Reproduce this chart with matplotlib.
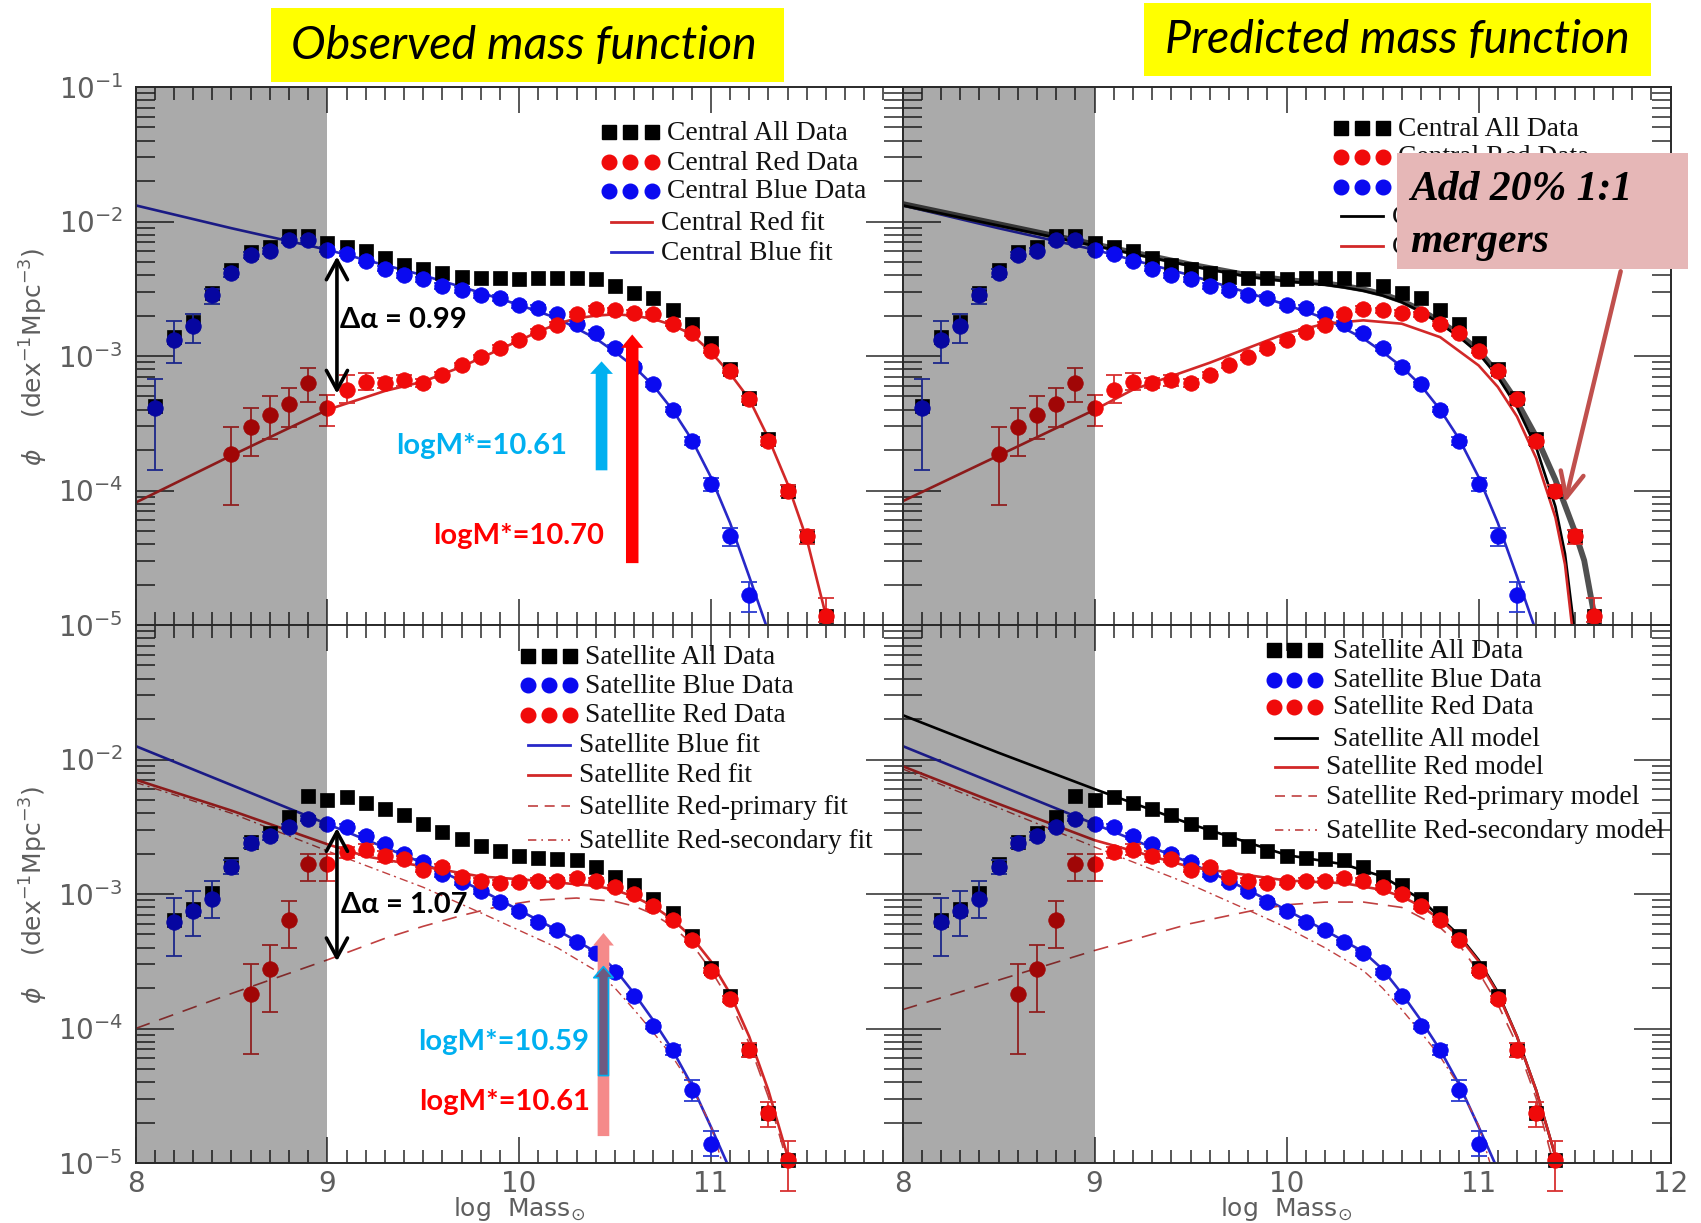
import numpy as np
import matplotlib
matplotlib.use("Agg")
import matplotlib.pyplot as plt
from matplotlib.lines import Line2D
from matplotlib.patches import Rectangle, FancyArrowPatch
from matplotlib.ticker import FixedLocator, LogLocator, FuncFormatter, NullFormatter

# ---------------------------------------------------------------- data (log10 phi)
# Centrals
cen_all_x = [8.1, 8.2, 8.3, 8.4, 8.5, 8.6, 8.7, 8.8, 8.9, 9.0, 9.1, 9.2, 9.3, 9.4, 9.5, 9.6,
             9.7, 9.8, 9.9, 10.0, 10.1, 10.2, 10.3, 10.4, 10.5, 10.6, 10.7, 10.8, 10.9, 11.0,
             11.1, 11.2, 11.3, 11.4, 11.5, 11.6]
cen_all_logphi = [-3.37, -2.86, -2.75, -2.53, -2.36, -2.23, -2.19, -2.11, -2.11, -2.16, -2.19,
                  -2.22, -2.27, -2.32, -2.35, -2.38, -2.41, -2.42, -2.42, -2.43, -2.42, -2.42,
                  -2.42, -2.43, -2.48, -2.53, -2.57, -2.66, -2.76, -2.90, -3.10, -3.31, -3.62,
                  -4.00, -4.34, -4.93]

cen_blue_x = [8.1, 8.2, 8.3, 8.4, 8.5, 8.6, 8.7, 8.8, 8.9, 9.0, 9.1, 9.2, 9.3, 9.4, 9.5, 9.6,
              9.7, 9.8, 9.9, 10.0, 10.1, 10.2, 10.3, 10.4, 10.5, 10.6, 10.7, 10.8, 10.9, 11.0,
              11.1, 11.2]
cen_blue_logphi = [-3.39, -2.88, -2.78, -2.55, -2.38, -2.25, -2.22, -2.14, -2.14, -2.21, -2.24,
                   -2.29, -2.35, -2.40, -2.43, -2.48, -2.51, -2.55, -2.57, -2.62, -2.64, -2.69,
                   -2.76, -2.83, -2.94, -3.08, -3.21, -3.40, -3.63, -3.95, -4.34, -4.78]
cen_blue_err_lo = [0.46, 0.17, 0.12, 0.06, 0.03, 0.02, 0.02, 0.02, 0.02, 0.02, 0.02, 0.02, 0.02,
                   0.02, 0.02, 0.02, 0.02, 0.02, 0.02, 0.02, 0.02, 0.02, 0.02, 0.02, 0.02, 0.02,
                   0.02, 0.02, 0.03, 0.05, 0.07, 0.12]
cen_blue_err_hi = [0.22, 0.14, 0.09, 0.05, 0.03, 0.02, 0.02, 0.02, 0.02, 0.02, 0.02, 0.02, 0.02,
                   0.02, 0.02, 0.02, 0.02, 0.02, 0.02, 0.02, 0.02, 0.02, 0.02, 0.02, 0.02, 0.02,
                   0.02, 0.02, 0.03, 0.04, 0.06, 0.10]

cen_red_x = [8.5, 8.6, 8.7, 8.8, 8.9, 9.0, 9.1, 9.2, 9.3, 9.4, 9.5, 9.6, 9.7, 9.8, 9.9, 10.0,
             10.1, 10.2, 10.3, 10.4, 10.5, 10.6, 10.7, 10.8, 10.9, 11.0, 11.1, 11.2, 11.3, 11.4,
             11.5, 11.6]
cen_red_logphi = [-3.73, -3.53, -3.44, -3.36, -3.20, -3.39, -3.25, -3.19, -3.20, -3.18, -3.20,
                  -3.14, -3.07, -3.01, -2.94, -2.88, -2.82, -2.77, -2.69, -2.65, -2.66, -2.68,
                  -2.69, -2.76, -2.83, -2.96, -3.11, -3.32, -3.63, -4.00, -4.34, -4.93]
cen_red_err_lo = [0.38, 0.21, 0.18, 0.17, 0.14, 0.13, 0.10, 0.06, 0.04, 0.04, 0.03, 0.02, 0.02,
                  0.02, 0.02, 0.02, 0.02, 0.02, 0.02, 0.02, 0.02, 0.02, 0.02, 0.02, 0.02, 0.02,
                  0.02, 0.02, 0.03, 0.04, 0.06, 0.05]
cen_red_err_hi = [0.20, 0.14, 0.14, 0.12, 0.11, 0.10, 0.11, 0.06, 0.04, 0.04, 0.03, 0.02, 0.02,
                  0.02, 0.02, 0.02, 0.02, 0.02, 0.02, 0.02, 0.02, 0.02, 0.02, 0.02, 0.02, 0.02,
                  0.02, 0.02, 0.03, 0.04, 0.05, 0.13]

# Central fits (observed panel)
cen_blue_fit_x = [8.0, 8.5, 9.0, 9.5, 9.8, 10.0, 10.2, 10.4, 10.5, 10.6, 10.7, 10.8, 10.9, 11.0,
                  11.1, 11.2, 11.3]
cen_blue_fit_logphi = [-1.88, -2.05, -2.21, -2.40, -2.53, -2.62, -2.72, -2.87, -2.97, -3.08,
                       -3.22, -3.40, -3.62, -3.90, -4.24, -4.64, -5.05]
cen_red_fit_x = [8.0, 8.5, 9.0, 9.3, 9.5, 9.7, 9.9, 10.1, 10.2, 10.3, 10.4, 10.5, 10.6, 10.7,
                 10.8, 10.9, 11.0, 11.1, 11.2, 11.3, 11.4, 11.5, 11.6, 11.62]
cen_red_fit_logphi = [-4.09, -3.74, -3.40, -3.26, -3.19, -3.08, -2.95, -2.82, -2.76, -2.72,
                      -2.70, -2.69, -2.70, -2.725, -2.77, -2.84, -2.97, -3.13, -3.32, -3.61,
                      -3.95, -4.36, -4.93, -5.05]

# Central models (predicted panel)
cen_all_model_x = [8.0, 8.5, 9.0, 9.5, 9.8, 10.0, 10.2, 10.3, 10.4, 10.5, 10.6, 10.7, 10.8,
                   10.9, 11.0, 11.1, 11.2, 11.3, 11.4, 11.45, 11.5]
cen_all_model_logphi = [-1.88, -2.03, -2.18, -2.33, -2.41, -2.445, -2.47, -2.49, -2.515, -2.55,
                        -2.60, -2.67, -2.76, -2.86, -2.98, -3.155, -3.38, -3.68, -4.12, -4.47,
                        -5.05]
cen_merger_model_x = [8.0, 8.5, 9.0, 9.5, 9.8, 10.0, 10.2, 10.3, 10.4, 10.5, 10.6, 10.7, 10.8,
                      10.9, 11.0, 11.1, 11.2, 11.3, 11.4, 11.5, 11.55, 11.6, 11.63]
cen_merger_model_logphi = [-1.87, -2.02, -2.17, -2.32, -2.40, -2.435, -2.46, -2.48, -2.505,
                           -2.54, -2.59, -2.66, -2.745, -2.84, -2.96, -3.13, -3.34, -3.60, -3.92,
                           -4.30, -4.52, -4.91, -5.05]
cen_red_model_x = [8.0, 8.5, 9.0, 9.2, 9.4, 9.6, 9.8, 10.0, 10.2, 10.4, 10.6, 10.8, 11.0, 11.1,
                   11.2, 11.3, 11.4, 11.45, 11.49]
cen_red_model_logphi = [-4.08, -3.74, -3.40, -3.25, -3.15, -3.05, -2.94, -2.83, -2.76, -2.735,
                        -2.76, -2.86, -3.07, -3.23, -3.45, -3.76, -4.20, -4.55, -5.05]

# Satellites
sat_all_x = [8.2, 8.3, 8.4, 8.5, 8.6, 8.7, 8.8, 8.9, 9.0, 9.1, 9.2, 9.3, 9.4, 9.5, 9.6, 9.7,
             9.8, 9.9, 10.0, 10.1, 10.2, 10.3, 10.4, 10.5, 10.6, 10.7, 10.8, 10.9, 11.0, 11.1,
             11.2, 11.3, 11.4]
sat_all_logphi = [-3.19, -3.11, -2.99, -2.78, -2.61, -2.55, -2.43, -2.27, -2.30, -2.28, -2.32,
                  -2.37, -2.41, -2.48, -2.54, -2.59, -2.64, -2.68, -2.715, -2.735, -2.74, -2.75,
                  -2.80, -2.87, -2.93, -3.04, -3.14, -3.31, -3.55, -3.76, -4.16, -4.63, -4.98]

sat_blue_x = [8.2, 8.3, 8.4, 8.5, 8.6, 8.7, 8.8, 8.9, 9.0, 9.1, 9.2, 9.3, 9.4, 9.5, 9.6, 9.7,
              9.8, 9.9, 10.0, 10.1, 10.2, 10.3, 10.4, 10.5, 10.6, 10.7, 10.8, 10.9, 11.0]
sat_blue_logphi = [-3.21, -3.13, -3.04, -2.80, -2.62, -2.57, -2.50, -2.44, -2.48, -2.50, -2.57,
                   -2.63, -2.70, -2.76, -2.85, -2.91, -2.98, -3.06, -3.13, -3.21, -3.27, -3.36,
                   -3.44, -3.58, -3.76, -3.98, -4.16, -4.46, -4.86]
sat_blue_err_lo = [0.25, 0.18, 0.14, 0.05, 0.04, 0.03, 0.02, 0.02, 0.02, 0.02, 0.02, 0.02, 0.02,
                   0.02, 0.02, 0.02, 0.02, 0.02, 0.02, 0.02, 0.02, 0.02, 0.02, 0.02, 0.02, 0.02,
                   0.04, 0.08, 0.09]
sat_blue_err_hi = [0.18, 0.15, 0.14, 0.05, 0.04, 0.03, 0.02, 0.02, 0.02, 0.02, 0.02, 0.02, 0.02,
                   0.02, 0.02, 0.02, 0.02, 0.02, 0.02, 0.02, 0.02, 0.02, 0.02, 0.02, 0.02, 0.02,
                   0.04, 0.08, 0.10]

sat_red_x = [8.6, 8.7, 8.8, 8.9, 9.0, 9.1, 9.2, 9.3, 9.4, 9.5, 9.6, 9.7, 9.8, 9.9, 10.0, 10.1,
             10.2, 10.3, 10.4, 10.5, 10.6, 10.7, 10.8, 10.9, 11.0, 11.1, 11.2, 11.3, 11.4]
sat_red_logphi = [-3.74, -3.56, -3.19, -2.78, -2.78, -2.69, -2.67, -2.72, -2.74, -2.82, -2.80,
                  -2.87, -2.90, -2.915, -2.91, -2.90, -2.90, -2.88, -2.90, -2.95, -3.00, -3.09,
                  -3.19, -3.34, -3.57, -3.78, -4.16, -4.63, -4.98]
sat_red_err_lo = [0.45, 0.32, 0.21, 0.12, 0.12, 0.04, 0.04, 0.04, 0.02, 0.02, 0.02, 0.02, 0.02,
                  0.02, 0.02, 0.02, 0.02, 0.02, 0.02, 0.02, 0.02, 0.02, 0.02, 0.02, 0.02, 0.02,
                  0.05, 0.10, 0.23]
sat_red_err_hi = [0.22, 0.18, 0.14, 0.08, 0.08, 0.04, 0.04, 0.04, 0.02, 0.02, 0.02, 0.02, 0.02,
                  0.02, 0.02, 0.02, 0.02, 0.02, 0.02, 0.02, 0.02, 0.02, 0.02, 0.02, 0.02, 0.02,
                  0.05, 0.08, 0.14]

# Satellite fits (observed panel)
sat_blue_fit_x = [8.0, 8.5, 9.0, 9.5, 9.8, 10.0, 10.2, 10.4, 10.5, 10.6, 10.7, 10.8, 10.9, 11.0,
                  11.1]
sat_blue_fit_logphi = [-1.90, -2.19, -2.48, -2.77, -2.97, -3.12, -3.27, -3.43, -3.56, -3.74,
                       -3.94, -4.16, -4.42, -4.73, -5.05]
sat_red_fit_x = [8.0, 8.5, 9.0, 9.2, 9.4, 9.6, 9.8, 10.0, 10.2, 10.4, 10.5, 10.6, 10.7, 10.8,
                 10.9, 11.0, 11.1, 11.2, 11.3, 11.4, 11.42]
sat_red_fit_logphi = [-2.15, -2.38, -2.63, -2.72, -2.77, -2.82, -2.87, -2.89, -2.915, -2.94,
                      -2.97, -3.02, -3.09, -3.19, -3.32, -3.50, -3.74, -4.06, -4.46, -4.95, -5.05]
sat_red_prim_fit_x = [8.0, 8.5, 9.0, 9.3, 9.5, 9.7, 9.9, 10.1, 10.3, 10.5, 10.6, 10.7, 10.8,
                      10.9, 11.0, 11.1, 11.2, 11.3, 11.4]
sat_red_prim_fit_logphi = [-4.00, -3.74, -3.49, -3.33, -3.24, -3.16, -3.09, -3.045, -3.03,
                           -3.055, -3.09, -3.15, -3.24, -3.37, -3.565, -3.80, -4.11, -4.51, -5.0]
sat_red_sec_fit_x = [8.0, 8.5, 9.0, 9.5, 9.8, 10.0, 10.2, 10.4, 10.5, 10.6, 10.7, 10.8, 10.9,
                     11.0, 11.07]
sat_red_sec_fit_logphi = [-2.17, -2.40, -2.68, -2.95, -3.14, -3.27, -3.40, -3.57, -3.70, -3.86,
                          -4.03, -4.21, -4.43, -4.72, -5.05]

# Satellite models (predicted panel)
sat_all_model_x = [8.0, 8.5, 9.0, 9.5, 10.0, 10.3, 10.5, 10.7, 10.9, 11.0, 11.1, 11.2, 11.3,
                   11.4, 11.42]
sat_all_model_logphi = [-1.67, -1.95, -2.22, -2.48, -2.71, -2.78, -2.87, -3.04, -3.31, -3.49,
                        -3.73, -4.06, -4.46, -4.95, -5.05]
sat_red_model_x = [8.0, 8.5, 9.0, 9.5, 10.0, 10.3, 10.5, 10.6, 10.7, 10.8, 10.9, 11.0, 11.1,
                   11.2, 11.3, 11.4, 11.42]
sat_red_model_logphi = [-2.05, -2.33, -2.60, -2.80, -2.90, -2.92, -2.97, -3.02, -3.09, -3.19,
                        -3.32, -3.50, -3.74, -4.06, -4.46, -4.95, -5.05]
sat_red_prim_model_x = [8.0, 8.5, 9.0, 9.5, 9.8, 10.0, 10.2, 10.4, 10.6, 10.8, 10.9, 11.0,
                        11.1, 11.2, 11.3, 11.38, 11.4]
sat_red_prim_model_logphi = [-3.86, -3.64, -3.42, -3.22, -3.13, -3.08, -3.06, -3.06, -3.10,
                             -3.25, -3.38, -3.58, -3.82, -4.12, -4.52, -4.95, -5.05]
sat_red_sec_model_x = [8.0, 8.5, 9.0, 9.5, 9.8, 10.0, 10.2, 10.4, 10.5, 10.6, 10.7, 10.8,
                       10.9, 11.0, 11.07]
sat_red_sec_model_logphi = [-2.07, -2.36, -2.65, -2.93, -3.12, -3.25, -3.40, -3.57, -3.70,
                            -3.86, -4.03, -4.21, -4.43, -4.72, -5.05]

x_ticks = [8, 9, 10, 11, 12]
incomplete_range = (8.0, 9.0)

# ---------------------------------------------------------------- style
W, H, DPI = 1701, 1223, 100
SERIF = "Liberation Serif"
SANS = "DejaVu Sans"
CALI = ["Lato", "DejaVu Sans"]
GRAY_TXT = "#5e5e5e"
BLUE_PT, RED_PT = "#0a0af0", "#f00a0a"
BLUE_LN, RED_LN = "#2828c8", "#d22828"
BLUE_ERR, RED_ERR = "#2a3ad0", "#d83030"
SEC_RED = "#c04040"
CYAN = "#00b0f0"

fig = plt.figure(figsize=(W / DPI, H / DPI), dpi=DPI)


def fxp(px):
    return px / W


def fyp(py):
    return 1 - py / H


ax_tl = fig.add_axes([fxp(135.6), fyp(625), 767 / W, 538 / H])
ax_tr = fig.add_axes([fxp(902.6), fyp(625), 768 / W, 538 / H])
ax_bl = fig.add_axes([fxp(135.6), fyp(1163), 767 / W, 538 / H])
ax_br = fig.add_axes([fxp(902.6), fyp(1163), 768 / W, 538 / H])
axes = [ax_tl, ax_tr, ax_bl, ax_br]


def phi(logphi):
    return 10.0 ** np.asarray(logphi, dtype=float)


def curve(ax, x, logphi, color, lw=1.9, ls="-", z=2, **kw):
    ax.plot(x, phi(logphi), color=color, lw=lw, ls=ls, zorder=z, **kw)


def points(ax, x, logphi, marker, color, ms, z, err=None, ecolor=None):
    y = phi(logphi)
    if err is not None:
        lo = np.asarray(err[0])
        hi = np.asarray(err[1])
        yerr = [y - phi(np.asarray(logphi) - lo), phi(np.asarray(logphi) + hi) - y]
        eb = ax.errorbar(x, y, yerr=yerr, fmt="none", ecolor=ecolor, elinewidth=1.3,
                         capsize=5.5, capthick=1.3, zorder=z)
        for art in eb.lines[1] + eb.lines[2]:
            art.set_clip_on(False)
    ax.plot(x, y, ls="none", marker=marker, ms=ms, mfc=color, mec=color, mew=0.5,
            zorder=z + 0.1, clip_on=False)


def central_points(ax):
    points(ax, cen_all_x, cen_all_logphi, "s", "black", 10.6, 3)
    points(ax, cen_blue_x, cen_blue_logphi, "o", BLUE_PT, 11.2, 3.3,
           err=(cen_blue_err_lo, cen_blue_err_hi), ecolor=BLUE_ERR)
    points(ax, cen_red_x, cen_red_logphi, "o", RED_PT, 11.2, 3.6,
           err=(cen_red_err_lo, cen_red_err_hi), ecolor=RED_ERR)


def satellite_points(ax):
    points(ax, sat_all_x, sat_all_logphi, "s", "black", 10.6, 3)
    points(ax, sat_blue_x, sat_blue_logphi, "o", BLUE_PT, 11.2, 3.3,
           err=(sat_blue_err_lo, sat_blue_err_hi), ecolor=BLUE_ERR)
    points(ax, sat_red_x, sat_red_logphi, "o", RED_PT, 11.2, 3.6,
           err=(sat_red_err_lo, sat_red_err_hi), ecolor=RED_ERR)


# ---------------------------------------------------------------- panels
# top left: observed centrals
curve(ax_tl, cen_blue_fit_x, cen_blue_fit_logphi, BLUE_LN)
curve(ax_tl, cen_red_fit_x, cen_red_fit_logphi, RED_LN)
central_points(ax_tl)

# top right: predicted centrals
curve(ax_tr, cen_blue_fit_x, cen_blue_fit_logphi, BLUE_LN, z=1.5)
curve(ax_tr, cen_merger_model_x, cen_merger_model_logphi, "#505050", lw=4.2)
curve(ax_tr, cen_all_model_x, cen_all_model_logphi, "black", lw=1.9)
curve(ax_tr, cen_red_model_x, cen_red_model_logphi, RED_LN)
central_points(ax_tr)

# bottom left: observed satellites
curve(ax_bl, sat_blue_fit_x, sat_blue_fit_logphi, BLUE_LN)
curve(ax_bl, sat_red_fit_x, sat_red_fit_logphi, RED_LN)
curve(ax_bl, sat_red_prim_fit_x, sat_red_prim_fit_logphi, SEC_RED, lw=1.2, ls=(0, (9, 6)))
curve(ax_bl, sat_red_sec_fit_x, sat_red_sec_fit_logphi, SEC_RED, lw=1.0, ls=(0, (6, 3, 1.5, 3)))
satellite_points(ax_bl)

# bottom right: predicted satellites
curve(ax_br, sat_all_model_x, sat_all_model_logphi, "black")
curve(ax_br, sat_blue_fit_x, sat_blue_fit_logphi, BLUE_LN)
curve(ax_br, sat_red_model_x, sat_red_model_logphi, RED_LN)
curve(ax_br, sat_red_prim_model_x, sat_red_prim_model_logphi, SEC_RED, lw=1.2, ls=(0, (9, 6)))
curve(ax_br, sat_red_sec_model_x, sat_red_sec_model_logphi, SEC_RED, lw=1.0,
      ls=(0, (6, 3, 1.5, 3)))
satellite_points(ax_br)


def decade_label(hide_top):
    def fmt(v, pos):
        e = int(round(np.log10(v)))
        if hide_top and e >= -1:
            return ""
        return r"$10^{%d}$" % e
    return FuncFormatter(fmt)


for ax in axes:
    ax.set_xlim(8, 12)
    ax.set_yscale("log")
    ax.set_ylim(1e-5, 1e-1)
    ax.axvspan(*incomplete_range, color="black", alpha=0.335, lw=0, zorder=6)
    ax.xaxis.set_major_locator(FixedLocator(x_ticks))
    ax.xaxis.set_minor_locator(FixedLocator(np.arange(80, 121) / 10.0))
    ax.yaxis.set_major_locator(LogLocator(base=10, numticks=10))
    ax.yaxis.set_minor_locator(LogLocator(base=10, subs=np.arange(2, 10), numticks=30))
    ax.tick_params(which="major", axis="x", direction="in", length=19, width=1.1,
                   top=True, bottom=True, color="#2a2a2a")
    ax.tick_params(which="minor", axis="x", direction="in", length=9.5, width=1.1,
                   top=True, bottom=True, color="#2a2a2a")
    ax.tick_params(which="major", axis="y", direction="in", length=27, width=1.1,
                   left=True, right=True, color="#2a2a2a")
    ax.tick_params(which="minor", axis="y", direction="in", length=14, width=1.1,
                   left=True, right=True, color="#2a2a2a")
    ax.tick_params(axis="both", which="both", labelsize=20, labelcolor=GRAY_TXT)
    ax.tick_params(axis="x", pad=5)
    ax.tick_params(axis="y", pad=9)
    for sp in ax.spines.values():
        sp.set_linewidth(1.4)
        sp.set_color("#2a2a2a")
        sp.set_zorder(7)
    ax.yaxis.set_minor_formatter(NullFormatter())

for ax in (ax_tl, ax_tr):
    ax.tick_params(axis="x", labelbottom=False)
for ax in (ax_tr, ax_br):
    ax.tick_params(axis="y", labelleft=False)
ax_tl.yaxis.set_major_formatter(decade_label(False))
ax_bl.yaxis.set_major_formatter(decade_label(True))
ax_bl.xaxis.set_major_formatter(FuncFormatter(lambda v, p: "" if v >= 12 else "%d" % v))
ax_br.xaxis.set_major_formatter(FuncFormatter(lambda v, p: "%d" % v))

# axis titles
for py in (357, 895):
    fig.text(fxp(34), fyp(py), r"$\phi$    (dex$^{-1}$Mpc$^{-3}$)", rotation=90,
             ha="center", va="center", fontsize=18, color=GRAY_TXT, family=SANS)
for px in (519, 1286):
    fig.text(fxp(px), fyp(1209), r"log  Mass$_{\odot}$", ha="center", va="center",
             fontsize=18, color=GRAY_TXT, family=SANS)


# ---------------------------------------------------------------- legends
def legend_rows(rows, marker_px, text_px, line_px, line_text_px):
    for kind, color, label, py in rows:
        if kind in ("s", "o"):
            ms = 9.5 if kind == "s" else 10.5
            fig.add_artist(Line2D([fxp(v) for v in marker_px], [fyp(py)] * 3,
                                  transform=fig.transFigure, ls="none", marker=kind, ms=ms,
                                  mfc=color, mec=color, zorder=8))
            tx = text_px
        else:
            lw = 2.0 if kind == "-" else 1.2
            fig.add_artist(Line2D([fxp(line_px[0]), fxp(line_px[1])], [fyp(py)] * 2,
                                  transform=fig.transFigure, color=color, ls=kind, lw=lw,
                                  zorder=8))
            tx = line_text_px
        fig.text(fxp(tx), fyp(py + 1), label, ha="left", va="center", fontsize=19.8,
                 family=SERIF, color="#111111", zorder=8)


legend_rows([("s", "black", "Central All Data", 132),
             ("o", RED_PT, "Central Red Data", 162),
             ("o", BLUE_PT, "Central Blue Data", 191),
             ("-", RED_LN, "Central Red fit", 222),
             ("-", BLUE_LN, "Central Blue fit", 252)],
            (609, 630, 652), 667, (611, 652), 661)

legend_rows([("s", "black", "Central All Data", 128),
             ("o", RED_PT, "Central Red Data", 157),
             ("o", BLUE_PT, "Central Blue Data", 187),
             ("-", "black", "Central All model", 216),
             ("-", RED_LN, "Central Red model", 246)],
            (1341, 1362, 1383), 1398, (1341, 1383), 1392)

legend_rows([("s", "black", "Satellite All Data", 656),
             ("o", BLUE_PT, "Satellite Blue Data", 685),
             ("o", RED_PT, "Satellite Red Data", 715),
             ("-", BLUE_LN, "Satellite Blue fit", 745),
             ("-", RED_LN, "Satellite Red fit", 775),
             ((0, (6, 4)), SEC_RED, "Satellite Red-primary fit", 806),
             ((0, (5, 3, 1, 3)), SEC_RED, "Satellite Red-secondary fit", 840)],
            (528, 549, 570), 585, (528, 570), 579)

legend_rows([("s", "black", "Satellite All Data", 650),
             ("o", BLUE_PT, "Satellite Blue Data", 680),
             ("o", RED_PT, "Satellite Red Data", 707),
             ("-", "black", " Satellite All model", 738),
             ("-", RED_LN, "Satellite Red model", 767),
             ((0, (6, 4)), SEC_RED, "Satellite Red-primary model", 796),
             ((0, (5, 3, 1, 3)), SEC_RED, "Satellite Red-secondary model", 830)],
            (1274, 1294, 1315), 1333, (1275, 1317), 1326)


# ---------------------------------------------------------------- annotations
def arrow(ax, x0, log0, x1, log1, style, z=9, **kw):
    patch = FancyArrowPatch((x0, phi(log0)), (x1, phi(log1)), arrowstyle=style,
                            mutation_scale=20, shrinkA=0, shrinkB=0, zorder=z,
                            transform=ax.transData, clip_on=False, **kw)
    ax.add_patch(patch)


def dalpha(ax, x, log_top, log_bot, text, tx, tlog):
    arrow(ax, x, log_bot, x, log_top, "<->,head_length=0.7,head_width=0.38", lw=2.6,
          color="black")
    ax.text(tx, phi(tlog), text, ha="left", va="center", fontsize=21, fontweight="bold",
            family=CALI, color="black", zorder=9)


def block_arrow(ax, x, log_base, log_tip, fc, ec="none", tail=0.42, head_w=0.82, head_l=0.45,
                lw=0):
    arrow(ax, x, log_base, x, log_tip,
          "simple,head_length=%g,head_width=%g,tail_width=%g" % (head_l, head_w, tail),
          fc=fc, ec=ec, lw=lw)


dalpha(ax_tl, 9.05, -2.26, -3.28, "\u0394\u03b1 = 0.99", 9.065, -2.73)
dalpha(ax_bl, 9.05, -2.51, -3.50, "\u0394\u03b1 = 1.07", 9.07, -3.08)

block_arrow(ax_tl, 10.43, -3.85, -3.04, CYAN)
block_arrow(ax_tl, 10.59, -4.54, -2.84, "#ff0000", tail=0.45, head_w=0.8, head_l=0.48)
ax_tl.text(10.25, phi(-3.67), "logM*=10.61", ha="right", va="center", fontsize=21,
           fontweight="bold", family=CALI, color=CYAN, zorder=9)
ax_tl.text(10.445, phi(-4.34), "logM*=10.70", ha="right", va="center", fontsize=21,
           fontweight="bold", family=CALI, color="#ff0000", zorder=9)

block_arrow(ax_bl, 10.44, -4.80, -3.29, "#f58a8a", tail=0.42, head_w=0.75, head_l=0.45)
block_arrow(ax_bl, 10.44, -4.35, -3.54, "#6f5a80", ec=CYAN, tail=0.36, head_w=0.7,
            head_l=0.4, lw=1.2)
ax_bl.text(10.365, phi(-4.10), "logM*=10.59", ha="right", va="center", fontsize=21,
           fontweight="bold", family=CALI, color=CYAN, zorder=9)
ax_bl.text(10.37, phi(-4.545), "logM*=10.61", ha="right", va="center", fontsize=21,
           fontweight="bold", family=CALI, color="#ff0000", zorder=9)

# title boxes
for (x0, y0, x1, y1), label, cx, cy in [((271, 8, 784, 82), "Observed mass function", 524, 46),
                                       ((1144, 3, 1651, 76), "Predicted mass function", 1397, 40)]:
    fig.add_artist(Rectangle((fxp(x0), fyp(y1)), (x1 - x0) / W, (y1 - y0) / H,
                             transform=fig.transFigure, fc="#ffff00", ec="none", zorder=10))
    fig.text(fxp(cx), fyp(cy), label, ha="center", va="center", fontsize=33.5, style="italic",
             family=CALI, color="black", zorder=11)

# merger note
fig.add_artist(Rectangle((fxp(1397), fyp(269)), (1688 - 1397) / W, (269 - 153) / H,
                         transform=fig.transFigure, fc="#e6b7b7", ec="none", zorder=10))
fig.text(fxp(1410), fyp(200), "Add 20% 1:1", ha="left", va="baseline", fontsize=30,
         fontweight="bold", style="italic", family=SERIF, color="black", zorder=11)
fig.text(fxp(1410), fyp(252), "mergers", ha="left", va="baseline", fontsize=30,
         fontweight="bold", style="italic", family=SERIF, color="black", zorder=11)
arrow(ax_tr, 11.74, -2.37, 11.45, -4.09, "->,head_length=0.9,head_width=0.42", z=12,
      lw=3.2, color="#c0504d")

fig.savefig("out.png", dpi=DPI, facecolor="white")
